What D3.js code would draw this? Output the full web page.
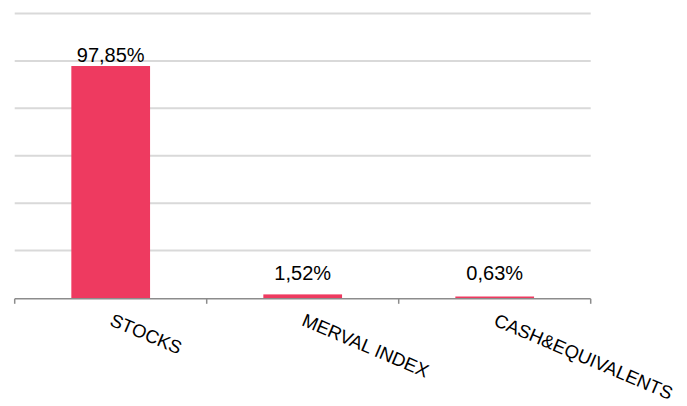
<!DOCTYPE html>
<html>
<head>
<meta charset="utf-8">
<script src="https://cdn.jsdelivr.net/npm/d3@7"></script>
<style>
  body { margin: 0; background: #fff; }
  text { font-family: "Liberation Sans", Arial, sans-serif; fill: #000; }
</style>
</head>
<body>
<svg id="chart"></svg>
<script>
// data
const categories = ['STOCKS', 'MERVAL INDEX', 'CASH&EQUIVALENTS'];
const values = [97.85, 1.52, 0.63];
const labels = ['97,85%', '1,52%', '0,63%'];
const gridTicks = [20, 40, 60, 80, 100, 120];

const width = 687, height = 406;
const margin = { top: 13.5, left: 14.7, right: 96.3, bottom: 108 };
const innerW = width - margin.left - margin.right;
const innerH = height - margin.top - margin.bottom;

const svg = d3.select('#chart')
    .attr('width', width)
    .attr('height', height);

const chart = svg.append('g')
    .attr('transform', `translate(${margin.left},${margin.top})`);

const pad = 0.59;
const xScale = d3.scaleBand()
    .domain(categories)
    .range([0, innerW])
    .paddingInner(pad)
    .paddingOuter(pad / 2);

const yScale = d3.scaleLinear()
    .domain([0, 120])
    .range([innerH, 0]);

// gridlines
chart.selectAll('.grid')
    .data(gridTicks)
    .enter().append('line')
    .attr('class', 'grid')
    .attr('x1', 0)
    .attr('x2', innerW)
    .attr('y1', d => yScale(d))
    .attr('y2', d => yScale(d))
    .attr('stroke', '#d9d9d9')
    .attr('stroke-width', 2);

// x axis line and boundary ticks (sits just under the bars)
const step = xScale.step();
const edges = d3.range(categories.length + 1).map(i => i * step);
const axisY = innerH + 0.8;

chart.append('line')
    .attr('x1', 0)
    .attr('x2', innerW)
    .attr('y1', axisY)
    .attr('y2', axisY)
    .attr('stroke', '#8c8c8c')
    .attr('stroke-width', 1.5);

chart.selectAll('.tick')
    .data(edges)
    .enter().append('line')
    .attr('class', 'tick')
    .attr('x1', d => d)
    .attr('x2', d => d)
    .attr('y1', axisY)
    .attr('y2', axisY + 5)
    .attr('stroke', '#8c8c8c')
    .attr('stroke-width', 1.5);

// bars
chart.selectAll('rect')
    .data(values)
    .enter().append('rect')
    .attr('x', (d, i) => xScale(categories[i]))
    .attr('width', xScale.bandwidth())
    .attr('y', d => yScale(d))
    .attr('height', d => innerH - yScale(d))
    .attr('fill', '#ee3a60');

// value labels
chart.selectAll('.val')
    .data(values)
    .enter().append('text')
    .attr('class', 'val')
    .attr('x', (d, i) => xScale(categories[i]) + xScale.bandwidth() / 2)
    .attr('y', d => Math.min(yScale(d) - 4, innerH - 18))
    .attr('text-anchor', 'middle')
    .style('font-size', '20px')
    .text((d, i) => labels[i]);

// rotated category labels
chart.selectAll('.cat')
    .data(categories)
    .enter().append('text')
    .attr('class', 'cat')
    .attr('transform', d => `translate(${xScale(d) + xScale.bandwidth() / 2 - 2},${innerH + 27}) rotate(23)`)
    .style('font-size', '18.5px')
    .text(d => d);
</script>
</body>
</html>
